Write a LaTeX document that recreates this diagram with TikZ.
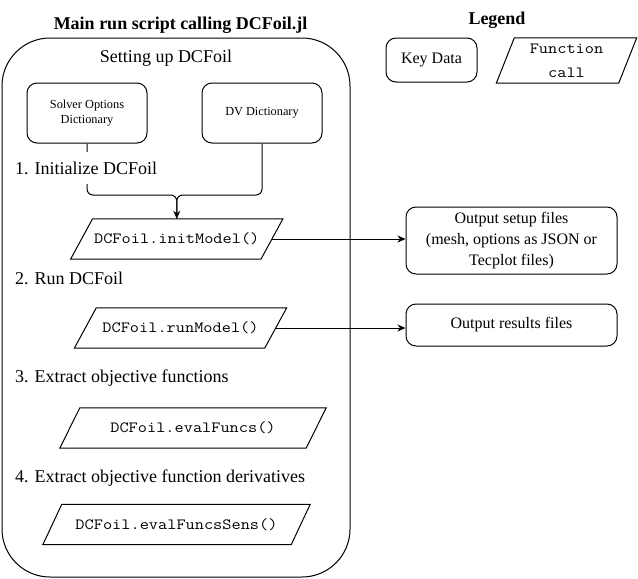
\documentclass[tikz,border=0pt]{standalone}
\usepackage{fontspec}
\setmainfont{Liberation Serif}
\setmonofont{Latin Modern Mono}[FakeStretch=1.143]
\usetikzlibrary{arrows.meta}
\newcommand\drawfcall[2]{\draw[outline] ([xshift=#2]#1.north west) -- ([xshift=#2]#1.north east) -- ([xshift=-#2]#1.south east) -- ([xshift=-#2]#1.south west) -- cycle;}
\begin{document}
\begin{tikzpicture}[x=1pt,y=-1pt,
  outline/.style={draw=black, line width=1pt},
  keydata/.style={outline, rounded corners=10pt, inner sep=0pt, align=center},
  fcall/.style={inner sep=0pt, minimum height=40pt, font=\fontsize{15.6}{19}\ttfamily},
  steplabel/.style={anchor=west, inner xsep=0pt, font=\fontsize{18}{21}\selectfont},
  conn/.style={line width=1pt, draw=black},
  arr/.style={conn, -{Stealth[length=8pt, width=7pt, inset=2.5pt]}},
  normal/.style={font=\fontsize{16}{21}\selectfont},
  small/.style={font=\fontsize{12.3}{15}\selectfont},
  heading/.style={font=\fontsize{18}{21}\bfseries}
]
\useasboundingbox (0,0) rectangle (638,579);

% main container
\node[outline, rounded corners=48pt, minimum width=348pt, minimum height=539pt, inner sep=0pt] (main) at (176,307.5) {};
\node[heading] (title) at (180.5,25) {Main run script calling DCFoil.jl};
\node[font=\fontsize{18}{21}\selectfont] (setup) at (166,58) {Setting up DCFoil};

% key data boxes
\node[keydata, small, minimum width=120pt, minimum height=60pt] (solver) at (87,113) {Solver Options\\Dictionary};
\node[keydata, small, minimum width=120pt, minimum height=60pt] (dv) at (262,113) {DV Dictionary};

% function calls
\node[fcall, minimum width=190pt] (init) at (176.75,239) {DCFoil.initModel()};
\node[fcall, minimum width=190pt] (run) at (180.5,328) {DCFoil.runModel()};
\node[fcall, minimum width=246pt] (eval) at (193,428) {DCFoil.evalFuncs()};
\node[fcall, minimum width=248pt] (sens) at (176.5,524.5) {DCFoil.evalFuncsSens()};
\drawfcall{init}{11pt}
\drawfcall{run}{11pt}
\drawfcall{eval}{10pt}
\drawfcall{sens}{9.5pt}

% connectors from dictionaries
\coordinate (j) at (176.75,195);
\draw[conn, rounded corners=6pt] (solver.south) |- (j) -- (init.north);
\draw[arr, rounded corners=6pt] (dv.south) |- (j) -- (init.north);

% step labels
\node[steplabel, fill=white, inner ysep=10pt] (s1) at (15,168) {1. Initialize DCFoil};
\node[steplabel] (s2) at (15,278) {2. Run DCFoil};
\node[steplabel] (s3) at (15,378) {3. Extract objective functions};
\node[steplabel] (s4) at (15,478) {4. Extract objective function derivatives};

% outputs
\node[keydata, normal, minimum width=211pt, minimum height=67pt] (outsetup) at (511.5,240.5) {Output setup files\\(mesh, options as JSON or\\Tecplot files)};
\node[keydata, normal, minimum width=211pt, minimum height=42pt] (outres) at (511.5,325) {Output results files};
\draw[arr] (init.east) -- (init.east -| outsetup.west);
\draw[arr] (run.east) -- (run.east -| outres.west);

% legend
\node[heading] (legend) at (497,20) {Legend};
\node[keydata, normal, minimum width=91pt, minimum height=44pt] (lkey) at (431.5,60) {Key Data};
\node[fcall, minimum width=122pt, minimum height=45pt, align=center, font=\fontsize{15.6}{24}\ttfamily] (lfun) at (566.5,60.5) {Function\\call};
\drawfcall{lfun}{9pt}
\end{tikzpicture}
\end{document}
